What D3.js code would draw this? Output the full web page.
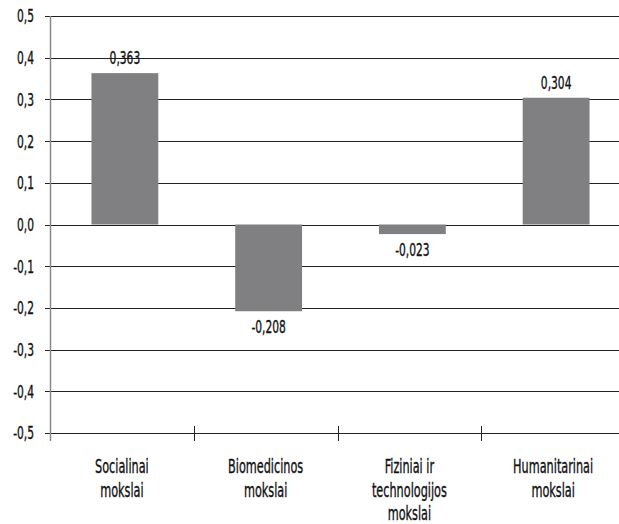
<!DOCTYPE html>
<html>
<head>
<meta charset="utf-8">
<script src="https://cdn.jsdelivr.net/npm/d3@7"></script>
<style>
  html, body { margin: 0; padding: 0; background: #fff; }
  svg { display: block; }
  text { font-family: "DejaVu Sans Condensed", "DejaVu Sans", sans-serif; fill: #111; stroke: #111; stroke-width: 0.35px; }
</style>
</head>
<body>
<svg id="chart" width="619" height="524"></svg>
<script>
// Category labels (split into lines) and their values
const categories = [
  ["Socialinai", "mokslai"],
  ["Biomedicinos", "mokslai"],
  ["Fiziniai ir", "technologijos", "mokslai"],
  ["Humanitarinai", "mokslai"]
];
const values = [0.363, -0.208, -0.023, 0.304];
const yTicks = [0.5, 0.4, 0.3, 0.2, 0.1, 0.0, -0.1, -0.2, -0.3, -0.4, -0.5];

const fmtTick = d => d3.format(".1f")(d).replace(".", ",").replace("−", "-");
const fmtVal = d => d3.format(".3f")(d).replace(".", ",").replace("−", "-");

const svg = d3.select("#chart");
const plotLeft = 50, plotRight = 625, plotTop = 16, plotBottom = 433;
const narrow = 0.66; // horizontal squeeze for a condensed look

const catWidth = (plotRight - plotLeft) / categories.length;

const x = d3.scaleBand()
  .domain(d3.range(categories.length))
  .range([plotLeft + 3, plotRight + 3])
  .paddingInner(0.535)
  .paddingOuter(0.2675);

const y = d3.scaleLinear().domain([-0.5, 0.5]).range([plotBottom, plotTop]);

// places a condensed text at (px, py)
const place = (px, py) => `translate(${px},${py}) scale(${narrow},1)`;

// Horizontal grid lines with short ticks on the left
svg.append("g")
  .selectAll("line")
  .data(yTicks)
  .join("line")
  .attr("x1", plotLeft - 5)
  .attr("x2", plotRight)
  .attr("y1", d => Math.round(y(d)) + 0.5)
  .attr("y2", d => Math.round(y(d)) + 0.5)
  .attr("stroke", "#222")
  .attr("stroke-width", 1);

// Y tick labels
svg.append("g")
  .selectAll("text")
  .data(yTicks)
  .join("text")
  .attr("transform", d => place(34, y(d)))
  .attr("dy", "0.36em")
  .attr("text-anchor", "end")
  .attr("font-size", 18)
  .text(fmtTick);

// Vertical axis line
svg.append("line")
  .attr("x1", plotLeft + 0.5).attr("x2", plotLeft + 0.5)
  .attr("y1", plotTop).attr("y2", plotBottom + 8)
  .attr("stroke", "#8a8a8a").attr("stroke-width", 1.5);

// Category separators on the bottom line
const sepPositions = d3.range(1, categories.length + 1).map(i => plotLeft + i * catWidth);
svg.append("g")
  .selectAll("line")
  .data(sepPositions)
  .join("line")
  .attr("x1", d => Math.round(d) + 0.5)
  .attr("x2", d => Math.round(d) + 0.5)
  .attr("y1", plotBottom - 7)
  .attr("y2", plotBottom + 8)
  .attr("stroke", "#222");

// Bars
svg.append("g")
  .selectAll("rect")
  .data(values)
  .join("rect")
  .attr("x", (d, i) => x(i))
  .attr("width", x.bandwidth())
  .attr("y", d => y(Math.max(0, d)))
  .attr("height", d => Math.abs(y(d) - y(0)))
  .attr("fill", "#808083");

// Value labels
svg.append("g")
  .selectAll("text")
  .data(values)
  .join("text")
  .attr("transform", (d, i) => place(x(i) + x.bandwidth() / 2, d >= 0 ? y(d) - 9 : y(d) + 22))
  .attr("text-anchor", "middle")
  .attr("font-size", 18)
  .text(fmtVal);

// Category labels, one text per line
const catCenter = i => plotLeft + (i + 0.5) * catWidth;
const catG = svg.append("g");
categories.forEach((lines, i) => {
  lines.forEach((ln, j) => {
    catG.append("text")
      .attr("transform", place(catCenter(i), 473 + j * 23.5))
      .attr("text-anchor", "middle")
      .attr("font-size", 19)
      .text(ln);
  });
});
</script>
</body>
</html>
